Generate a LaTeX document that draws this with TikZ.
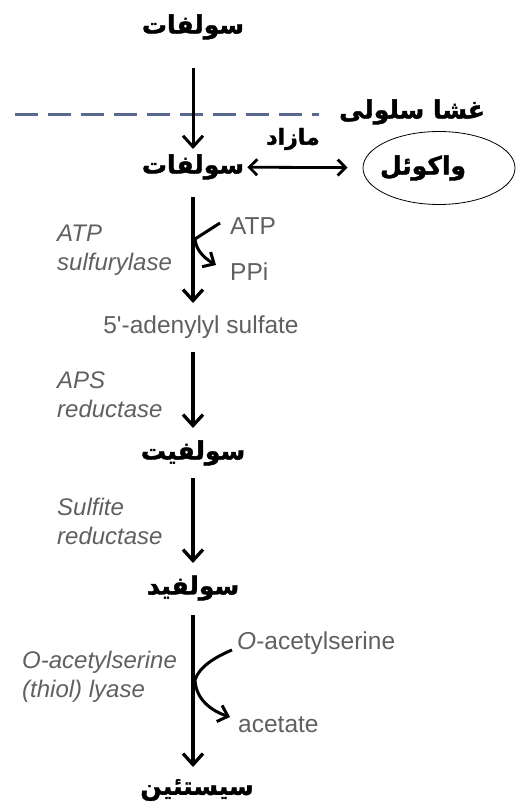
\documentclass[tikz,border=0pt]{standalone}
\usepackage{fontspec}
\setmainfont{Liberation Sans}
\newfontfamily\fafont[Script=Arabic, BoldFeatures={FakeBold=1.6}]{DejaVu Sans}
\TeXXeTstate=1
\usetikzlibrary{arrows.meta,shapes.geometric}
\definecolor{enzgray}{RGB}{96,96,96}
\definecolor{membblue}{RGB}{88,104,142}

\begin{document}
\begin{tikzpicture}[x=1pt, y=-1pt,
    fa/.style={font=\fafont\bfseries\fontsize{25}{29}\selectfont, inner sep=0pt},
    en/.style={font=\fontsize{24.5}{29}\selectfont, text=enzgray, inner sep=0pt},
    enz/.style={font=\itshape\fontsize{24}{29}\selectfont, text=enzgray, inner sep=0pt, align=left, anchor=west},
    flow/.style={-{Straight Barb[length=11pt,width=20pt]}, line width=3.3pt},
    side/.style={-{Straight Barb[length=9pt,width=17pt]}, line width=3pt}]
    \useasboundingbox (0,0) rectangle (515,805);

    % Membrane
    \node[fa, font=\fafont\bfseries\fontsize{25}{30}\selectfont] (memlbl) at (412,112) {\beginR غشا سلولی\endR};
    \coordinate (memL) at (15,115);
    \draw[membblue, line width=3pt, dash pattern=on 23pt off 10pt, shorten >=20pt] (memL) -- (memL -| memlbl.west);

    % Sulfate outside and inside
    \node[fa] (so4out) at (193,27) {\beginR سولفات\endR};
    \node[fa] (so4in) at (193,167) {\beginR سولفات\endR};
    \node[fa, font=\fafont\bfseries\fontsize{22}{26}\selectfont] (excess) at (293,139) {\beginR مازاد\endR};
    \node[draw, ellipse, line width=0.8pt, minimum width=152pt, minimum height=73pt] (vac) at (439,168) {};
    \node[fa] (vactxt) at (423,168) {\beginR واکوئل\endR};

    % Activation
    \node[en, anchor=west] (atp) at (230,226) {ATP};
    \node[en, anchor=west] (ppi) at (230,272) {PPi};
    \node[enz] (enz1) at (57,250) {ATP\\sulfurylase};
    \node[en] (aps) at (201,327) {5\textquotesingle-adenylyl sulfate};

    % Reduction
    \node[enz] (enz2) at (57,395) {APS\\reductase};
    \node[fa] (so3) at (193,453) {\beginR سولفیت\endR};
    \node[enz] (enz3) at (57,521) {Sulfite\\reductase};
    \node[fa] (s2) at (193,588) {\beginR سولفید\endR};

    % Cysteine synthesis
    \node[en, anchor=west] (oas) at (237,643) {\textit{O}-acetylserine};
    \node[en, anchor=west] (acet) at (238,725) {acetate};
    \node[enz] (enz4) at (22,677) {\textit{O}-acetylserine\\ (thiol) lyase};
    \node[fa] (cys) at (197,790) {\beginR سیستئین\endR};

    % Arrows
    \draw[flow, line width=3pt, shorten <=41pt, shorten >=18pt] (so4out.center) -- (so4in.center);
    \draw[{Straight Barb[length=8pt,width=16pt]}-{Straight Barb[length=8pt,width=16pt]}, line width=2.8pt, shorten <=3pt, shorten >=15pt] (so4in) -- (vac);
    \draw[flow, shorten <=30pt, shorten >=24pt] (so4in.center) -- (so4in.center |- aps.center);
    \draw[flow, shorten <=25pt, shorten >=25pt] (so3.center |- aps.center) -- (so3.center);
    \draw[flow, shorten <=25pt, shorten >=25pt] (so3.center) -- (s2.center);
    \draw[flow, shorten <=27pt, shorten >=23pt] (s2.center) -- (s2.center |- cys.center);

    \coordinate (j1) at (195,239);
    \draw[side] ([shift={(-10,-3)}]atp.west) -- (j1)
        .. controls (196,250) and (204,258) .. ([shift={(-14,-7)}]ppi.west);
    \coordinate (j2) at (195,680);
    \draw[side] ([shift={(-5,7)}]oas.west) .. controls (215,657) and (199,667) .. (j2)
        .. controls (196,700) and (212,711) .. ([shift={(-8,-8)}]acet.west);
\end{tikzpicture}
\end{document}
